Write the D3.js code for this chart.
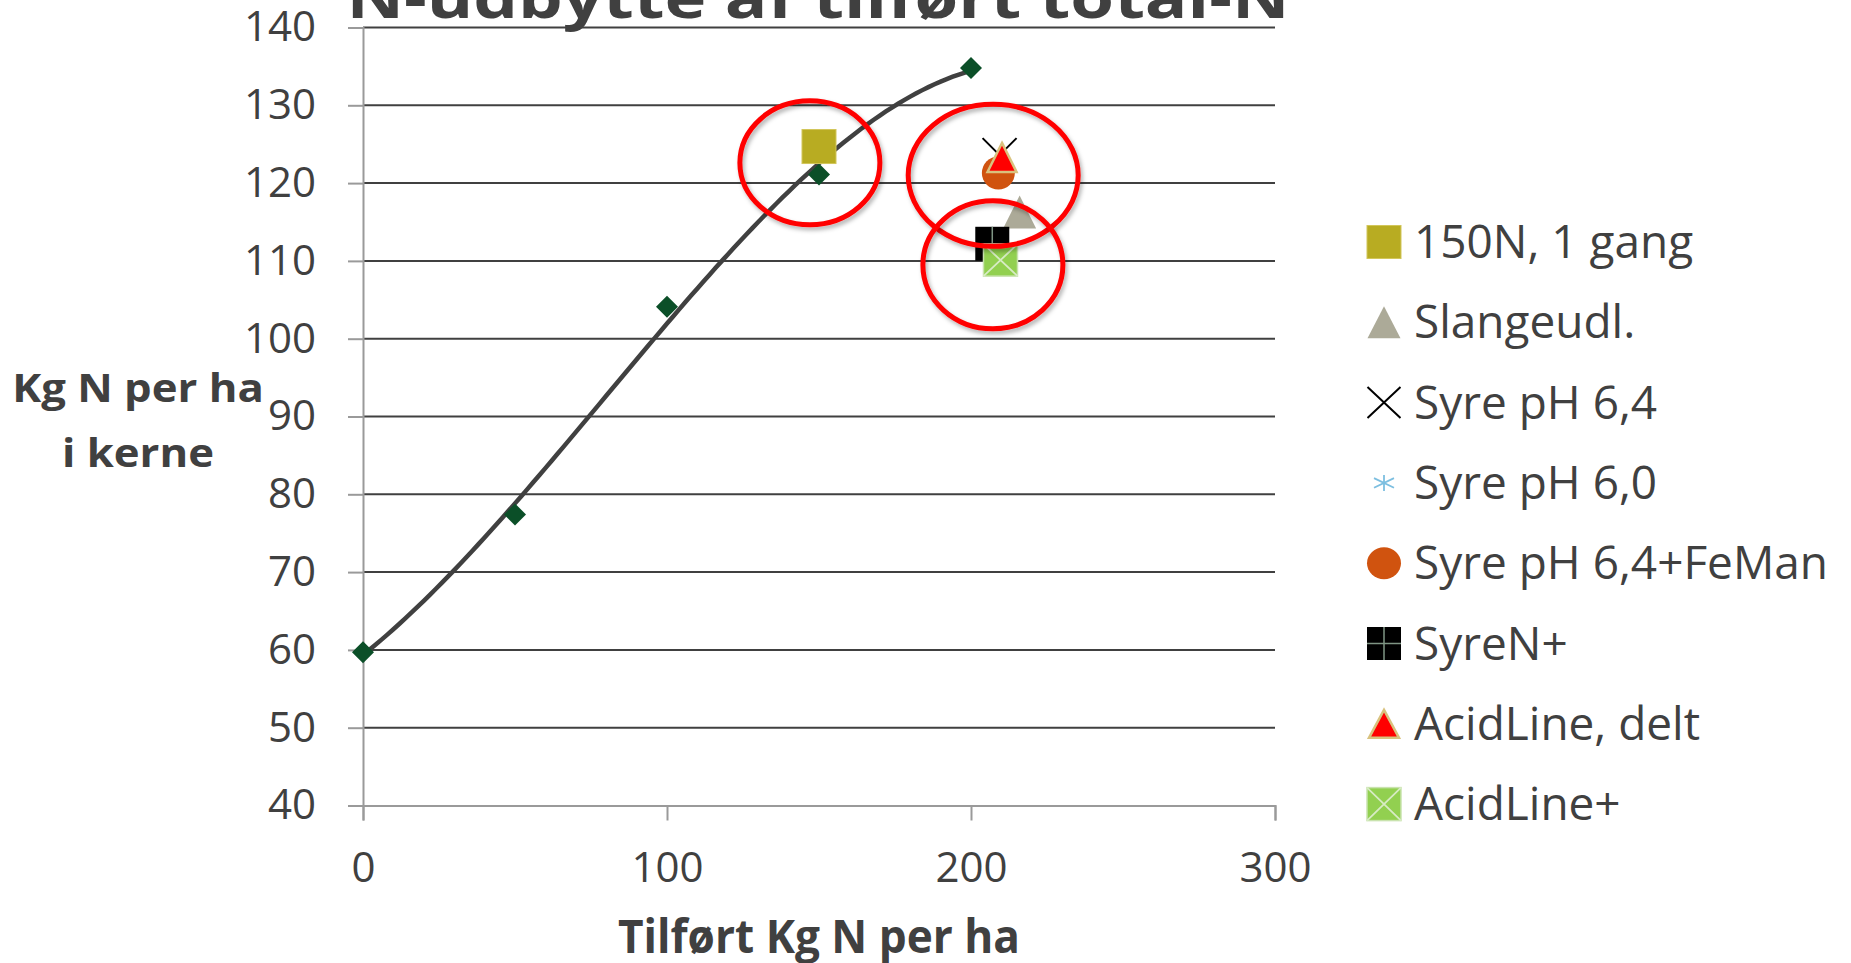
<!DOCTYPE html>
<html>
<head>
<meta charset="utf-8">
<script src="https://cdn.jsdelivr.net/npm/d3@7"></script>
<style>
  html, body { margin: 0; padding: 0; background: #fff; }
  svg { display: block; font-family: "Open Sans", "Noto Sans", sans-serif; }
  .tick text { fill: #404040; font-size: 42px; }
</style>
</head>
<body>
<div id="chart"></div>
<script>
// N-response series (green diamonds)
var nLevels = [0, 50, 100, 150, 200];
var nYield = [59.7, 77.4, 104.1, 121.1, 134.8];

// treatments
var treatNames = ["150N, 1 gang", "Slangeudl.", "Syre pH 6,4", "Syre pH 6,0",
                  "Syre pH 6,4+FeMan", "SyreN+", "AcidLine, delt", "AcidLine+"];
var treatN = [150, 216, 209.4, 209, 209, 207, 210.2, 209.7];
var treatYield = [124.7, 116.3, 123.6, 121.3, 121.3, 112.2, 123.3, 110.1];

// red rings drawn around groups (centre in data units)
var ringN = [147, 207.3, 207.2];
var ringYield = [122.6, 121.0, 109.5];

var xTicks = [0, 100, 200, 300];
var yTicks = [40, 50, 60, 70, 80, 90, 100, 110, 120, 130, 140];

var W = 1851, H = 963;
var margin = {top: 27.5, right: 576, bottom: 157.5, left: 363};

var markers = [
  {type: "square", fill: "#B8AC22", w: 34, h: 34},
  {type: "triangle", fill: "#ACAA98", w: 33, h: 33},
  {type: "x", fill: "#000", w: 34, h: 34},
  {type: "asterisk", fill: "#7DBFE0", w: 16, h: 14},
  {type: "circle", fill: "#D0530F", w: 33, h: 33},
  {type: "squarecross", fill: "#000", w: 34, h: 34},
  {type: "trianglebord", fill: "#FF0000", w: 29, h: 29},
  {type: "squarex", fill: "#92D050", w: 34, h: 32}
];
var legendSize = [[34, 33], [33, 32], [33, 31], [20, 16], [34, 32], [34, 33], [30, 28], [34, 33]];
var ringSize = [[70, 62], [85, 71], [70, 64]];

var svg = d3.select("#chart").append("svg")
    .attr("width", W).attr("height", H);

var defs = svg.append("defs");
defs.append("filter").attr("id", "shadow")
    .attr("x", "-20%").attr("y", "-20%").attr("width", "140%").attr("height", "140%")
  .append("feDropShadow")
    .attr("dx", 2).attr("dy", 3).attr("stdDeviation", 2)
    .attr("flood-color", "#000").attr("flood-opacity", 0.3);

var x = d3.scaleLinear().domain([0, 300]).range([margin.left, W - margin.right]);
var y = d3.scaleLinear().domain([40, 140]).range([H - margin.bottom, margin.top]);

// gridlines
svg.append("g").selectAll("line")
    .data(yTicks.slice(1))
  .enter().append("line")
    .attr("x1", x(0)).attr("x2", x(300))
    .attr("y1", function(d) { return y(d); })
    .attr("y2", function(d) { return y(d); })
    .attr("stroke", "#404040").attr("stroke-width", 2);

var yAxis = d3.axisLeft(y).tickValues(yTicks).tickSize(15).tickPadding(32);
var xAxis = d3.axisBottom(x).tickValues(xTicks).tickSize(15).tickPadding(31.5);

var gy = svg.append("g").attr("transform", "translate(" + x(0) + ",0)").call(yAxis);
var gx = svg.append("g").attr("transform", "translate(0," + y(40) + ")").call(xAxis);
[gx, gy].forEach(function(g) {
  g.select(".domain").attr("stroke", "#9a9a9a").attr("stroke-width", 2);
  g.selectAll(".tick line").attr("stroke", "#9a9a9a").attr("stroke-width", 2);
  g.selectAll(".tick text").attr("font-family", "Open Sans");
});

// cubic polynomial trendline (least squares)
function polyFit(xs, ys, order) {
  var n = order + 1, A = [], b = [];
  for (var i = 0; i < n; i++) {
    A.push([]);
    for (var j = 0; j < n; j++) {
      A[i].push(d3.sum(xs, function(v) { return Math.pow(v, i + j); }));
    }
    b.push(d3.sum(xs, function(v, k) { return ys[k] * Math.pow(v, i); }));
  }
  for (var c = 0; c < n; c++) {
    for (var r = c + 1; r < n; r++) {
      var f = A[r][c] / A[c][c];
      for (var k = c; k < n; k++) A[r][k] -= f * A[c][k];
      b[r] -= f * b[c];
    }
  }
  var coef = new Array(n);
  for (var r2 = n - 1; r2 >= 0; r2--) {
    var s = b[r2];
    for (var k2 = r2 + 1; k2 < n; k2++) s -= A[r2][k2] * coef[k2];
    coef[r2] = s / A[r2][r2];
  }
  return function(v) { return d3.sum(coef, function(cf, p) { return cf * Math.pow(v, p); }); };
}
var trend = polyFit(nLevels, nYield, 3);
var trendPts = d3.range(0, 200.5, 2);

svg.append("path")
    .datum(trendPts)
    .attr("fill", "none")
    .attr("stroke", "#404040")
    .attr("stroke-width", 4.5)
    .attr("stroke-linecap", "round")
    .attr("d", d3.line()
      .x(function(d) { return x(d); })
      .y(function(d) { return y(trend(d)); }));

svg.append("g").selectAll("path")
    .data(nLevels)
  .enter().append("path")
    .attr("transform", function(d, i) { return "translate(" + x(d) + "," + y(nYield[i]) + ")"; })
    .attr("d", "M0,-11L11,0L0,11L-11,0Z")
    .attr("fill", "#0B4F28");

function drawMarker(g, m, w, h) {
  var hw = w / 2, hh = h / 2;
  if (m.type === "square") {
    g.append("rect").attr("x", -hw).attr("y", -hh).attr("width", w).attr("height", h)
      .attr("fill", m.fill).attr("stroke", "#D2C65A").attr("stroke-width", 1);
  } else if (m.type === "triangle") {
    g.append("path").attr("d", "M0," + (-hh) + "L" + hw + "," + hh + "L" + (-hw) + "," + hh + "Z")
      .attr("fill", m.fill);
  } else if (m.type === "trianglebord") {
    g.append("path").attr("d", "M0," + (-hh) + "L" + hw + "," + hh + "L" + (-hw) + "," + hh + "Z")
      .attr("fill", m.fill).attr("stroke", "#D9C27E").attr("stroke-width", 2.5);
  } else if (m.type === "x") {
    g.append("path").attr("d", "M" + (-hw) + "," + (-hh) + "L" + hw + "," + hh + "M" + hw + "," + (-hh) + "L" + (-hw) + "," + hh)
      .attr("stroke", m.fill).attr("stroke-width", 2).attr("fill", "none");
  } else if (m.type === "asterisk") {
    g.append("path").attr("d", "M0," + (-hh) + "L0," + hh +
        "M" + (-hw) + "," + (-hh * 0.6) + "L" + hw + "," + (hh * 0.6) +
        "M" + hw + "," + (-hh * 0.6) + "L" + (-hw) + "," + (hh * 0.6))
      .attr("stroke", m.fill).attr("stroke-width", 1.8).attr("fill", "none");
  } else if (m.type === "circle") {
    g.append("ellipse").attr("rx", hw).attr("ry", hh).attr("fill", m.fill);
  } else if (m.type === "squarecross") {
    g.append("rect").attr("x", -hw).attr("y", -hh).attr("width", w).attr("height", h).attr("fill", m.fill);
    g.append("path").attr("d", "M0," + (-hh) + "L0," + hh + "M" + (-hw) + ",0L" + hw + ",0")
      .attr("stroke", "#7F9584").attr("stroke-width", 1.5);
  } else if (m.type === "squarex") {
    g.append("rect").attr("x", -hw).attr("y", -hh).attr("width", w).attr("height", h)
      .attr("fill", m.fill).attr("stroke", "#C9E3AE").attr("stroke-width", 1.5);
    g.append("path").attr("d", "M" + (-hw) + "," + (-hh) + "L" + hw + "," + hh + "M" + hw + "," + (-hh) + "L" + (-hw) + "," + hh)
      .attr("stroke", "#D7EBC4").attr("stroke-width", 1.8);
  }
}

// treatment points
treatNames.forEach(function(name, i) {
  var g = svg.append("g")
      .attr("transform", "translate(" + x(treatN[i]) + "," + y(treatYield[i]) + ")");
  drawMarker(g, markers[i], markers[i].w, markers[i].h);
});

// red rings
svg.append("g").selectAll("ellipse")
    .data(ringN)
  .enter().append("ellipse")
    .attr("cx", function(d) { return x(d); })
    .attr("cy", function(d, i) { return y(ringYield[i]); })
    .attr("rx", function(d, i) { return ringSize[i][0]; })
    .attr("ry", function(d, i) { return ringSize[i][1]; })
    .attr("fill", "none")
    .attr("stroke", "#FF0000")
    .attr("stroke-width", 5)
    .attr("filter", "url(#shadow)");

// stretch text horizontally by factor k
function stretch(sel, k) {
  sel.each(function() {
    var len = this.getComputedTextLength();
    d3.select(this).attr("textLength", len * k).attr("lengthAdjust", "spacingAndGlyphs");
  });
}

// title (runs off the top edge)
svg.append("text")
    .attr("x", 818).attr("y", 18)
    .attr("text-anchor", "middle")
    .attr("font-size", 58).attr("font-weight", "bold")
    .attr("fill", "#404040")
    .text("N-udbytte af tilført total-N")
    .call(stretch, 1.22);

// y axis title
var yt = svg.append("g").attr("fill", "#404040")
    .attr("font-size", 39).attr("font-weight", "bold").attr("text-anchor", "middle");
yt.append("text").attr("x", 138).attr("y", 401.5).text("Kg N per ha").call(stretch, 1.12);
yt.append("text").attr("x", 138).attr("y", 466.5).text("i kerne").call(stretch, 1.12);

// x axis title
svg.append("text")
    .attr("x", 819).attr("y", 953)
    .attr("text-anchor", "middle")
    .attr("font-size", 46).attr("font-weight", "bold")
    .attr("fill", "#404040")
    .text("Tilført Kg N per ha")
    .call(stretch, 0.96);

// legend
var legend = svg.append("g").selectAll("g")
    .data(treatNames)
  .enter().append("g")
    .attr("transform", function(d, i) { return "translate(1384," + (242 + i * 80.3) + ")"; });

legend.each(function(d, i) {
  var g = d3.select(this);
  drawMarker(g, markers[i], legendSize[i][0], legendSize[i][1]);
  g.append("text")
      .attr("x", 30).attr("y", 16)
      .attr("font-size", 45.5)
      .attr("fill", "#404040")
      .text(d)
      .call(stretch, 1.01);
});
</script>
</body>
</html>
